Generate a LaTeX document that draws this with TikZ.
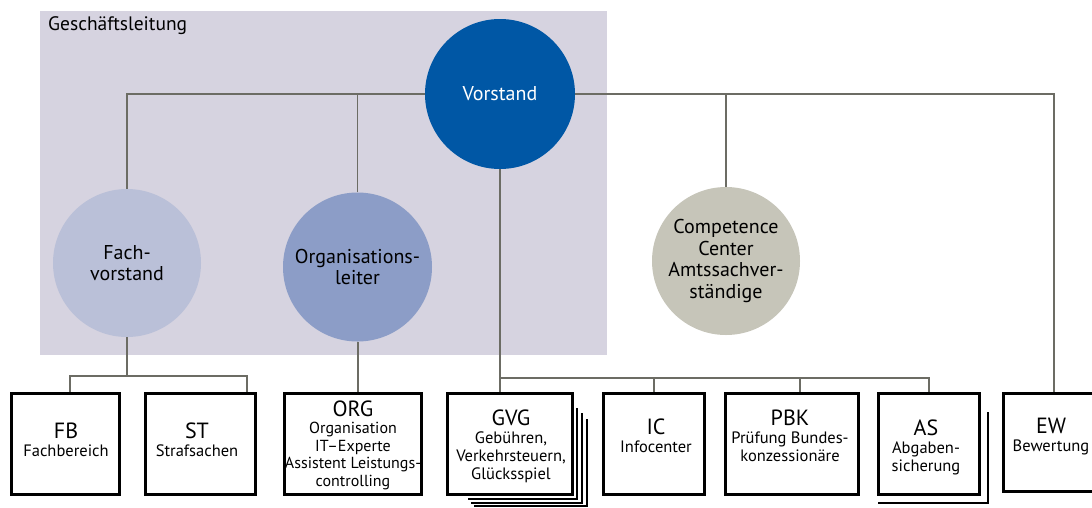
\documentclass[tikz,border=0pt]{standalone}
\usepackage{fontspec}
\setmainfont{PT Sans}
\usetikzlibrary{calc}

\definecolor{glbg}{HTML}{D6D3E0}
\definecolor{vblue}{HTML}{0057A5}
\definecolor{fachc}{HTML}{BAC0D8}
\definecolor{orgc}{HTML}{8C9DC7}
\definecolor{ccc}{HTML}{C6C5B9}
\definecolor{linegray}{HTML}{6C6C64}

\tikzset{
  conn/.style={draw=linegray, line width=1.5pt},
  busline/.style={draw=linegray, line width=2.5pt},
  roundunit/.style={circle, inner sep=0pt, minimum size=148pt,
    font=\fontsize{20}{21.5}\selectfont, align=center},
  unitbox/.style={rectangle, draw=black, line width=3pt, fill=white,
    inner sep=0pt, minimum height=101pt},
  unitlabel/.style={align=center, font=\fontsize{16.5}{18}\selectfont},
  stackline/.style={draw=black, line width=2.5pt},
}
\newcommand{\unittitle}[1]{{\fontsize{22}{19.5}\selectfont #1}}

\begin{document}
\begin{tikzpicture}[x=1pt, y=-1pt]
\useasboundingbox (0,0) rectangle (1092,507);

% management area
\fill[glbg] (40,11) rectangle (607,355);
\node[anchor=base west, font=\fontsize{19.5}{21}\selectfont, inner sep=0pt]
  (gltitle) at (48,30) {Geschäftsleitung};

% circles
\node[roundunit, fill=vblue, text=white, minimum size=150pt] (vorstand) at (500,94) {Vorstand};
\node[roundunit, fill=fachc] (fach) at (127,263) {Fach-\\vorstand};
\node[roundunit, fill=orgc, minimum size=149pt] (orgl) at (357.5,267) {Organisations-\\leiter};
\node[roundunit, fill=ccc] (cc) at (726,261) {Competence\\Center\\Amtssachver-\\ständige};

% unit boxes
\node[unitbox, minimum width=108pt] (fb)  at (65.5,444) {};
\node[unitbox, minimum width=110pt] (st)  at (200.5,444) {};
\node[unitbox, minimum width=137pt] (org) at (353,444) {};
\node[unitbox, minimum width=125pt] (gvg) at (510,444) {};
\node[unitbox, minimum width=101pt] (ic)  at (654,444) {};
\node[unitbox, minimum width=133pt] (pbk) at (792,444) {};
\node[unitbox, minimum width=101pt] (as)  at (929,444) {};
\node[unitbox, minimum width=97pt, minimum height=98pt] (ew) at (1052,442.5) {};

% stacked sheets behind GVG and AS
\foreach \dx/\dy/\tx/\lx in {3/3/16/22, 8/7/21/25, 13/10/27/28}{
  \draw[stackline] ($(gvg.south west)+(\lx,\dy)$) -- ($(gvg.south east)+(\dx,\dy)$)
    -- ($(gvg.north east)+(\dx,\tx)$);
}
\draw[stackline] ($(as.south west)+(1,7)$) -- ($(as.south east)+(7,7)$)
  -- ($(as.north east)+(7,20)$);

% labels in the boxes
\node[unitlabel] (fbl)  at (66,440)  {\unittitle{FB}\\Fachbereich};
\node[unitlabel] (stl)  at (197,440) {\unittitle{ST}\\Strafsachen};
\node[unitlabel, font=\fontsize{16}{17.5}\selectfont] (orgt) at (353,445) {\unittitle{ORG}\\Organisation\\IT–Experte\\Assistent Leistungs-\\controlling};
\node[unitlabel] (gvgl) at (511,446) {\unittitle{GVG}\\Gebühren,\\Verkehrsteuern,\\Glücksspiel};
\node[unitlabel] (icl)  at (656,436) {\unittitle{IC}\\Infocenter};
\node[unitlabel] (pbkl) at (790,436) {\unittitle{PBK}\\Prüfung Bundes-\\konzessionäre};
\node[unitlabel] (asl)  at (926,447) {\unittitle{AS}\\Abgaben-\\sicherung};
\node[unitlabel] (ewl)  at (1051,437) {\unittitle{EW}\\Bewertung};

% bus points
\coordinate (fbdrop) at (70,376);
\coordinate (stdrop) at (247,376);
\coordinate (vbus) at (500,378);
\coordinate (pbkdrop) at (800,378);

% connectors from the board
\draw[conn] (vorstand.west) -| (fach.north);
\draw[conn] (orgl.north) -- (orgl.north |- vorstand.west);
\draw[conn] (vorstand.east) -| ([xshift=2pt]ew.north);
\draw[conn] (cc.north) -- (cc.north |- vorstand.east);

% lower connectors
\draw[conn, line width=2pt] (fach.south) -- (fach.south |- fbdrop);
\draw[busline] (fb.north -| fbdrop) -- (fbdrop) -- (stdrop) -- (st.north -| stdrop);
\draw[conn, line width=2pt] (orgl.south) -- (orgl.south |- org.north);
\draw[conn, line width=2pt] (vorstand.south) -- (vorstand.south |- gvg.north);
\draw[busline] (vbus) -- (vbus -| as.north) -- (as.north);
\draw[conn, line width=2pt] (vbus -| ic.north) -- (ic.north);
\draw[conn, line width=2pt] (pbkdrop) -- (pbk.north -| pbkdrop);
\end{tikzpicture}
\end{document}
